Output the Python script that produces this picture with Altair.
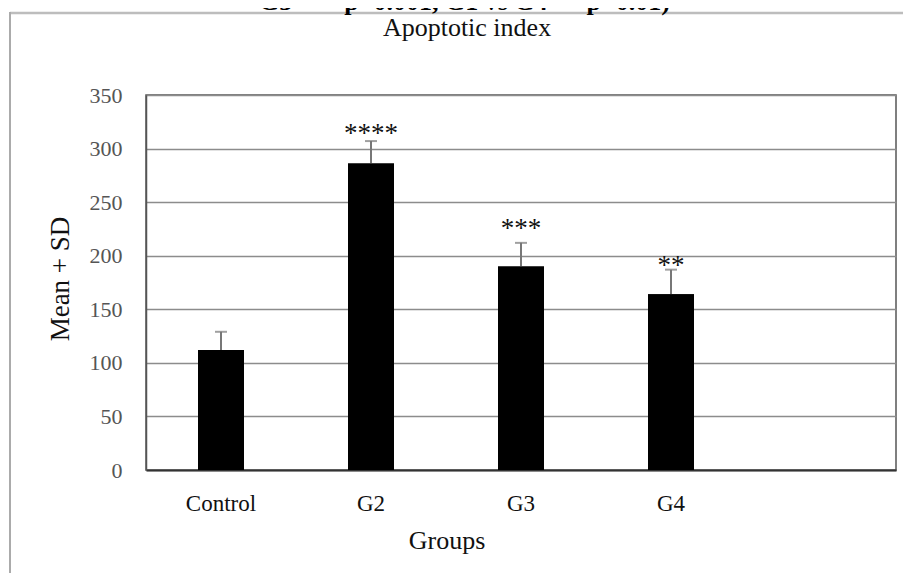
import altair as alt
import pandas as pd

# ---- data ----
groups = ["Control", "G2", "G3", "G4"]
means = [112, 286, 190, 164]
sds = [17, 21, 22, 23]
stars = ["", "****", "***", "**"]
star_heights = [None, 314, 225, 190]

x_domain = groups + [" "]
y_ticks = [0, 50, 100, 150, 200, 250, 300, 350]

chart_title = "Apoptotic index"
x_title = "Groups"
y_title = "Mean + SD"
top_fragment = "G3 *** p<0.001, G1 vs G4 ** p<0.01)"

df = pd.DataFrame({"group": groups, "mean": means, "sd": sds,
                   "star": stars, "star_y": star_heights})

SERIF = "Liberation Serif"

x_enc = alt.X("group:N", sort=x_domain,
              scale=alt.Scale(domain=x_domain, paddingInner=0, paddingOuter=0),
              axis=alt.Axis(title=None, ticks=False, labelAngle=0,
                            labelFont=SERIF, labelFontSize=23, labelColor="#111",
                            labelBaseline="middle", labelPadding=33,
                            domainColor="#333", domainWidth=2, grid=False))
y_scale = alt.Scale(domain=[0, 350], nice=False, zero=True)
y_axis = alt.Axis(title=None, values=y_ticks, ticks=False,
                  labelFont=SERIF, labelFontSize=22, labelColor="#555",
                  labelPadding=24, domainColor="#555", domainWidth=1.5,
                  grid=True, gridColor="#8c8c8c", gridWidth=1.5)

base = alt.Chart(df).transform_calculate(upper="datum.mean + datum.sd")

bars = base.mark_bar(size=46, color="black").encode(
    x=x_enc, y=alt.Y("mean:Q", scale=y_scale, axis=y_axis))

stems = base.mark_rule(color="#777", strokeWidth=2).encode(
    x=x_enc, y=alt.Y("mean:Q", scale=y_scale), y2="upper:Q")

caps = base.mark_tick(color="#777", thickness=2, size=12).encode(
    x=x_enc, y=alt.Y("upper:Q", scale=y_scale))

star_text = base.transform_filter("datum.star != ''").mark_text(
    font=SERIF, fontSize=27, baseline="middle", color="#111").encode(
    x=x_enc, y=alt.Y("star_y:Q", scale=y_scale), text="star:N")

def label(txt, **kw):
    return alt.Chart(pd.DataFrame({"t": [txt]})).mark_text(**kw).encode(text="t:N")

title_mark = label(chart_title, font=SERIF, fontSize=26, baseline="middle",
                   align="center", color="#111").encode(x=alt.value(321), y=alt.value(-67))
xtitle_mark = label(x_title, font=SERIF, fontSize=26, baseline="middle",
                    align="center", color="#111").encode(x=alt.value(301), y=alt.value(446))
ytitle_mark = label(y_title, font=SERIF, fontSize=27, baseline="middle",
                    align="center", angle=270, color="#111").encode(x=alt.value(-85), y=alt.value(184))
frag_mark = label(top_fragment, font=SERIF, fontSize=26, fontWeight="bold",
                  baseline="alphabetic", align="left", color="#000").encode(
    x=alt.value(113), y=alt.value(-85))

frame_top = alt.Chart(pd.DataFrame({"t": [0]})).mark_rule(
    color="#bdbdbd", strokeWidth=2.5).encode(
    x=alt.value(-136), x2=alt.value(770), y=alt.value(-82))
frame_left = alt.Chart(pd.DataFrame({"t": [0]})).mark_rule(
    color="#ababab", strokeWidth=2).encode(
    x=alt.value(-136), y=alt.value(-83), y2=alt.value(490))

chart = alt.layer(
    bars, stems, bars, caps, star_text,
    frame_top, frame_left, frag_mark, title_mark, xtitle_mark, ytitle_mark
).properties(
    width=750, height=375,
    autosize=alt.AutoSizeParams(type="none"),
    padding={"left": 138, "top": 87, "right": 7, "bottom": 103},
    background="white",
).configure_view(stroke="#555", strokeWidth=1.5)

chart.save("out.html", embed_options={"renderer": "svg", "actions": False})
